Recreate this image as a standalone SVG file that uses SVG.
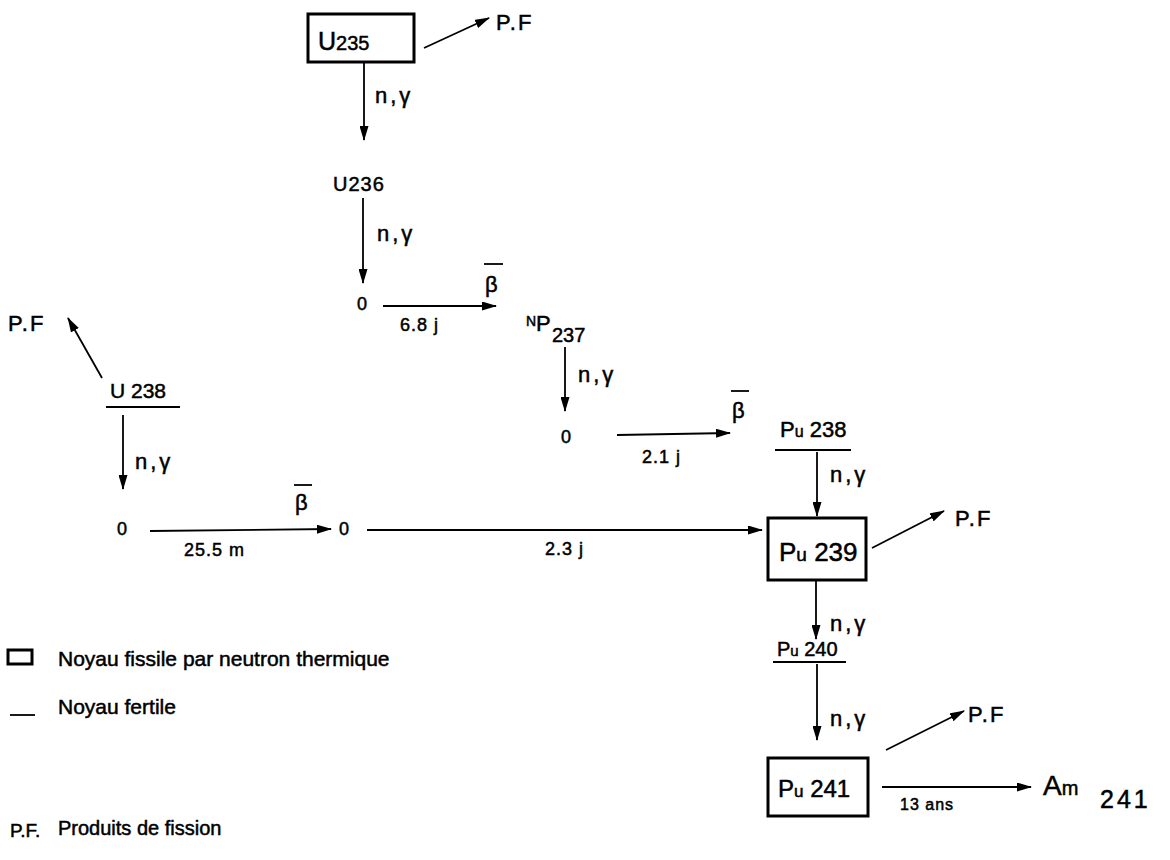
<svg xmlns="http://www.w3.org/2000/svg" width="1170" height="860" viewBox="0 0 1170 860">
<defs>
<marker id="ah" markerWidth="15" markerHeight="9" refX="14" refY="4.5" orient="auto" markerUnits="userSpaceOnUse">
<path d="M0,0 L15,4.5 L0,9 z" fill="#000"/>
</marker>
<style>
text{font-family:"Liberation Sans","DejaVu Sans",sans-serif;fill:#000;stroke:#000;stroke-width:0.5}
.lbl{font-size:21px}
.ng{font-size:22px;letter-spacing:3px}
.pf{font-size:22px;letter-spacing:2px}
.sm{font-size:18px}
.box{fill:none;stroke:#000;stroke-width:3}
.ln{stroke:#000;stroke-width:1.8;fill:none}
.arr{stroke:#000;stroke-width:1.8;fill:none;marker-end:url(#ah)}
</style>
</defs>
<rect width="1170" height="860" fill="#fff"/>

<g id="connectors">
<line class="arr" x1="424" y1="48" x2="489" y2="18"/>
<line class="arr" x1="364" y1="62" x2="364" y2="140"/>
<line class="arr" x1="363" y1="198" x2="363" y2="283"/>
<line class="arr" x1="383" y1="306" x2="496" y2="306"/>
<line class="arr" x1="565" y1="347" x2="565" y2="411"/>
<line class="arr" x1="617" y1="435" x2="730" y2="433"/>
<line class="arr" x1="102" y1="378" x2="68" y2="318"/>
<line class="arr" x1="123" y1="415" x2="123" y2="489"/>
<line class="arr" x1="150" y1="531" x2="331" y2="529"/>
<line class="arr" x1="367" y1="530" x2="762" y2="530"/>
<line class="arr" x1="817" y1="452" x2="817" y2="516"/>
<line class="arr" x1="872" y1="548" x2="944" y2="511"/>
<line class="arr" x1="816" y1="581" x2="816" y2="639"/>
<line class="arr" x1="817" y1="664" x2="817" y2="740"/>
<line class="arr" x1="886" y1="750" x2="964" y2="711"/>
<line class="arr" x1="882" y1="787" x2="1031" y2="787"/>
</g>

<g id="U235">
<rect class="box" x="308" y="14" width="106" height="48"/>
<text x="318" y="50" font-size="25">U<tspan font-size="20">235</tspan></text>
</g>
<g id="PF1"><text class="pf" x="496" y="30">P.F</text></g>
<g id="label-ng1"><text class="ng" x="375" y="103">n,γ</text></g>

<g id="U236"><text x="333" y="191" font-size="20" letter-spacing="1">U236</text></g>
<g id="label-ng2"><text class="ng" x="377" y="241">n,γ</text></g>

<g id="zero1"><text x="357" y="310" font-size="18">0</text></g>
<g id="label-68j"><text class="sm" x="400" y="331" letter-spacing="1">6.8 j</text></g>
<g id="beta1"><text font-size="22" x="485" y="292">β</text><line class="ln" x1="484" y1="264" x2="503" y2="264"/></g>

<g id="Np237">
<text x="526" y="326" font-size="14">N</text>
<text x="536" y="331" font-size="22">P</text>
<text x="552" y="342" font-size="20">237</text>
</g>
<g id="label-ng3"><text class="ng" x="578" y="382">n,γ</text></g>
<g id="zero2"><text x="561" y="443" font-size="18">0</text></g>
<g id="label-21j"><text class="sm" x="642" y="463" letter-spacing="1">2.1 j</text></g>
<g id="beta2"><text font-size="22" x="732" y="418">β</text><line class="ln" x1="731" y1="391" x2="749" y2="391"/></g>

<g id="PF2"><text class="pf" x="8" y="331">P.F</text></g>
<g id="U238">
<text x="110" y="398" font-size="21">U 238</text>
<line class="ln" x1="106" y1="407" x2="180" y2="407"/>
</g>
<g id="label-ng4"><text class="ng" x="135" y="469">n,γ</text></g>
<g id="zero3"><text x="117" y="535" font-size="18">0</text></g>
<g id="label-255m"><text class="sm" x="184" y="556" letter-spacing="1">25.5 m</text></g>
<g id="beta3"><text font-size="22" x="295" y="510">β</text><line class="ln" x1="294" y1="485" x2="312" y2="485"/></g>
<g id="zero4"><text x="339" y="535" font-size="18">0</text></g>
<g id="label-23j"><text class="sm" x="545" y="555" letter-spacing="1">2.3 j</text></g>

<g id="Pu238">
<text x="780" y="437" font-size="22">P<tspan font-size="16">u</tspan> 238</text>
<line class="ln" x1="775" y1="450" x2="851" y2="450"/>
</g>
<g id="label-ng5"><text class="ng" x="830" y="482">n,γ</text></g>

<g id="Pu239">
<rect class="box" x="768" y="518" width="98" height="62"/>
<text x="779" y="561" font-size="26">P<tspan font-size="19">u</tspan> 239</text>
</g>
<g id="PF3"><text class="pf" x="955" y="526">P.F</text></g>
<g id="label-ng6"><text class="ng" x="830" y="631">n,γ</text></g>

<g id="Pu240">
<text x="777" y="656" font-size="20">P<tspan font-size="15">u</tspan> 240</text>
<line class="ln" x1="773" y1="662" x2="846" y2="662"/>
</g>
<g id="label-ng7"><text class="ng" x="830" y="726">n,γ</text></g>

<g id="Pu241">
<rect class="box" x="768" y="758" width="100" height="58"/>
<text x="778" y="797" font-size="24">P<tspan font-size="17">u</tspan> 241</text>
</g>
<g id="PF4"><text class="pf" x="968" y="722">P.F</text></g>
<g id="label-13ans"><text x="900" y="810" font-size="16" letter-spacing="1">13 ans</text></g>
<g id="Am241">
<text x="1043" y="795" font-size="28">A<tspan font-size="20">m</tspan></text>
<text x="1100" y="808" font-size="25" letter-spacing="3">241</text>
</g>

<g id="legend">
<rect class="box" x="8" y="650" width="24" height="14"/>
<text class="lbl" x="58" y="666">Noyau fissile par neutron  thermique</text>
<line class="ln" x1="10" y1="715" x2="35" y2="715"/>
<text class="lbl" x="58" y="714">Noyau fertile</text>
<text x="10" y="837" font-size="19">P.F.</text>
<text x="58" y="835" font-size="20">Produits de fission</text>
</g>
</svg>
